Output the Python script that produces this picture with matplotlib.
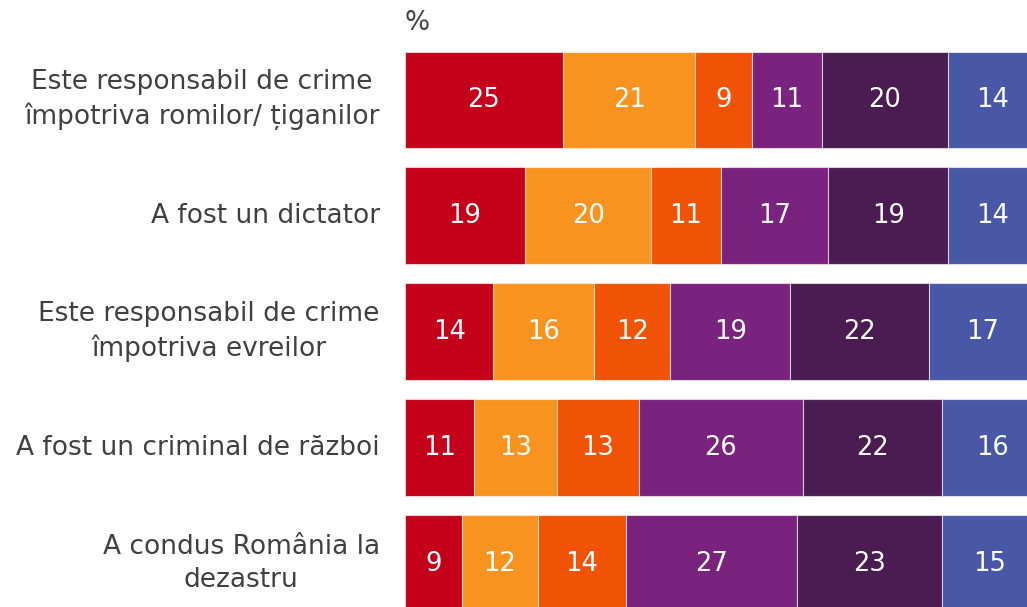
import numpy as np
import matplotlib.pyplot as plt

# Etichete afirmații (de sus în jos)
afirmatii = [
    "Este responsabil de crime\nîmpotriva romilor/ țiganilor",
    "A fost un dictator",
    "Este responsabil de crime\nîmpotriva evreilor",
    "A fost un criminal de război",
    "A condus România la\ndezastru",
]

# Procente pe categorii de răspuns, pentru fiecare afirmație
serie_1 = [25, 19, 14, 11, 9]
serie_2 = [21, 20, 16, 13, 12]
serie_3 = [9, 11, 12, 13, 14]
serie_4 = [11, 17, 19, 26, 27]
serie_5 = [20, 19, 22, 22, 23]
serie_6 = [14, 14, 17, 16, 15]

culori = ["#C5001A", "#F7931E", "#F15306", "#7A237E", "#4B1C51", "#4858A7"]

plt.rcParams['font.family'] = ['DejaVu Sans']

fig = plt.figure(figsize=(10.27, 6.07), dpi=100)
ax = fig.add_axes([405 / 1027, 0, 622 / 1027, 1])

serii = [serie_1, serie_2, serie_3, serie_4, serie_5, serie_6]
y = np.arange(len(afirmatii))
stanga = np.zeros(len(afirmatii))

for valori, culoare in zip(serii, culori):
    valori = np.array(valori)
    ax.barh(y, valori, left=stanga, height=0.836, color=culoare,
            edgecolor=(1, 1, 1, 0.6), linewidth=0.8)
    for yi, st, v in zip(y, stanga, valori):
        ax.text(st + v / 2, yi, str(v), ha='center', va='center',
                color='white', fontsize=18.5)
    stanga += valori

ax.set_xlim(0, 98.5)
ax.set_ylim(4.371, -0.862)
ax.axis('off')

# Etichetele afirmațiilor, aliniate la dreapta lângă bare, rânduri centrate
for yi, text in zip(y, afirmatii):
    ax.text(-4, yi, text, ha='right', va='center', color='#404040',
            fontsize=19, linespacing=1.35, multialignment='center')

fig.text(405 / 1027, 1 - 23 / 607, "%", ha='left', va='center',
         color='#404040', fontsize=19)

fig.savefig("out.png", dpi=100)
